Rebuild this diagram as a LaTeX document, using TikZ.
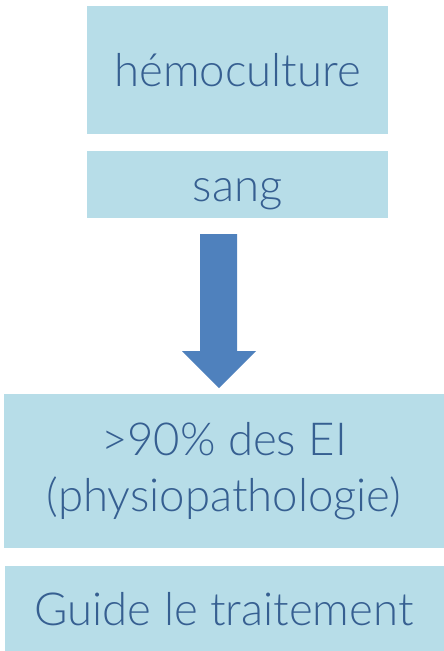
\documentclass[tikz,border=0pt]{standalone}
\usepackage{fontspec}
\setmainfont{Lato}[UprightFont=* Light]
\usetikzlibrary{positioning}
\definecolor{boxfill}{RGB}{183,221,232}
\definecolor{boxtext}{RGB}{54,95,145}
\definecolor{arrowfill}{RGB}{79,129,189}
\tikzset{
    x=1pt, y=1pt,
    box/.style ={rectangle, fill=boxfill, text=boxtext, inner sep=0pt,
                 font=\fontsize{45.5}{56}\selectfont},
    oneline/.style = {box, text height=40pt, text depth=7pt}
}

\begin{document}
\begin{tikzpicture}
    \useasboundingbox (0,0) rectangle (444,-651);

    %%Boxes
    \node[oneline, minimum width=301pt, minimum height=128pt] (hemo) at (237.5,-70) {hémoculture};
    \node[oneline, minimum width=301pt, minimum height=67pt] (sang) [below =17pt of hemo] {sang};
    \node[box, align=center, minimum width=440pt, minimum height=154pt] (ei) at (224,-471) {\raisebox{-3.5pt}{>90\% des EI}\\\raisebox{-3.5pt}{(physiopathologie)}};
    \node[oneline, minimum width=439pt, minimum height=85pt] (guide) [below =18pt of ei] {Guide le traitement};

    % Block arrow
    \fill[arrowfill] (200,-234) -- (237,-234) -- (237,-351) -- (256,-351)
        -- (219,-388) -- (182,-351) -- (200,-351) -- cycle;
\end{tikzpicture}
\end{document}
